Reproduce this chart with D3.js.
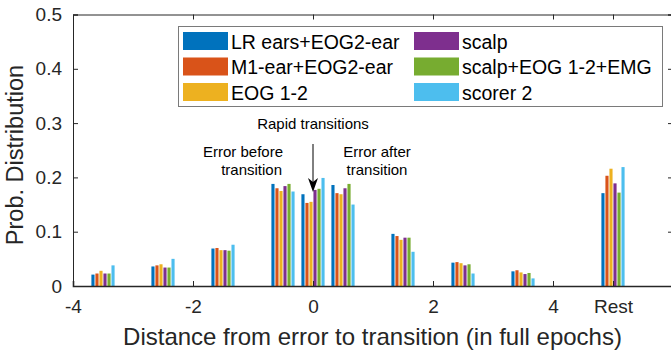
<!DOCTYPE html>
<html><head><meta charset="utf-8">
<script src="https://cdn.jsdelivr.net/npm/d3@7"></script>
<style>body{margin:0;background:#fff}svg{display:block}text{font-family:"Liberation Sans",Arial,sans-serif}</style>
</head><body>
<svg id="c" width="671" height="355"></svg>
<script>
const positions = [-3.5, -2.5, -1.5, -0.5, 0, 0.5, 1.5, 2.5, 3.5, 5];
const seriesNames = ["LR ears+EOG2-ear", "M1-ear+EOG2-ear", "EOG 1-2", "scalp", "scalp+EOG 1-2+EMG", "scorer 2"];
const colors = ["#0072BD", "#D95319", "#EDB120", "#7E2F8E", "#77AC30", "#4DBEEE"];
const lrEars   = [0.021, 0.036, 0.069, 0.188, 0.169, 0.186, 0.096, 0.043, 0.027, 0.171];
const m1Ear    = [0.023, 0.038, 0.070, 0.180, 0.153, 0.171, 0.092, 0.044, 0.029, 0.203];
const eog12    = [0.028, 0.040, 0.066, 0.175, 0.155, 0.169, 0.085, 0.042, 0.025, 0.216];
const scalp    = [0.023, 0.034, 0.066, 0.184, 0.177, 0.180, 0.089, 0.038, 0.022, 0.189];
const scalpEMG = [0.023, 0.034, 0.065, 0.188, 0.179, 0.188, 0.089, 0.040, 0.024, 0.172];
const scorer2  = [0.038, 0.050, 0.076, 0.174, 0.199, 0.150, 0.063, 0.023, 0.014, 0.219];
const series = [lrEars, m1Ear, eog12, scalp, scalpEMG, scorer2];
const xTicks = [-4, -2, 0, 2, 4, 5];
const xTickLabels = ["-4", "-2", "0", "2", "4", "Rest"];
const yTicks = [0, 0.1, 0.2, 0.3, 0.4, 0.5];

const svg = d3.select("#c");
const L = 73, R = 673, T = 14.5, B = 286;
const x = d3.scaleLinear().domain([-4, 6]).range([L, R]);
const y = d3.scaleLinear().domain([0, 0.5]).range([B, T]);
const inner = d3.scaleBand().domain(d3.range(series.length)).range([-12, 12]).paddingInner(0.22).paddingOuter(0.1);

// bars
series.forEach((vals, si) => {
  svg.append("g").selectAll("rect").data(vals).join("rect")
    .attr("x", (d, i) => x(positions[i]) + inner(si))
    .attr("width", inner.bandwidth())
    .attr("y", d => y(d))
    .attr("height", d => y(0) - y(d))
    .attr("fill", colors[si]);
});

// axes
const axCol = "#262626";
const fmt = d => d === 0 ? "0" : d3.format(".1f")(d);
const gx = svg.append("g").attr("transform", `translate(0,${B})`)
  .call(d3.axisBottom(x).tickValues(xTicks).tickFormat((d, i) => xTickLabels[i]).tickSize(-5).tickPadding(14));
const gxt = svg.append("g").attr("transform", `translate(0,${T})`)
  .call(d3.axisTop(x).tickValues(xTicks).tickFormat("").tickSize(-5));
const gy = svg.append("g").attr("transform", `translate(${L},0)`)
  .call(d3.axisLeft(y).tickValues(yTicks).tickFormat(fmt).tickSize(-5).tickPadding(11));
const gyr = svg.append("g").attr("transform", `translate(${R},0)`)
  .call(d3.axisRight(y).tickValues(yTicks).tickFormat("").tickSize(-5));
[gx, gxt, gy, gyr].forEach(g => {
  g.select(".domain").attr("stroke", axCol).attr("stroke-width", 1);
  g.selectAll(".tick line").attr("stroke", axCol).attr("stroke-width", 1);
  g.selectAll("text").attr("fill", "#262626").attr("font-size", 19).attr("font-family", '"Liberation Sans",Arial,sans-serif');
});
gx.select(".domain").attr("stroke-width", 1.6);

// axis labels
svg.append("text").attr("x", 372.5).attr("y", 345).attr("text-anchor", "middle")
  .attr("font-size", 24).attr("fill", "#262626").text("Distance from error to transition (in full epochs)");
svg.append("text").attr("transform", `translate(23,155) rotate(-90)`).attr("text-anchor", "middle")
  .attr("font-size", 23.5).attr("fill", "#262626").text("Prob. Distribution");

// annotations
const ann = svg.append("g").attr("font-size", 15).attr("fill", "#000");
ann.append("text").attr("x", 313).attr("y", 129).attr("text-anchor", "middle").text("Rapid transitions");
ann.append("text").attr("x", 283).attr("y", 157).attr("text-anchor", "end").text("Error before");
ann.append("text").attr("x", 282).attr("y", 175).attr("text-anchor", "end").text("transition");
ann.append("text").attr("x", 377).attr("y", 157).attr("text-anchor", "middle").text("Error after");
ann.append("text").attr("x", 377).attr("y", 175).attr("text-anchor", "middle").text("transition");
svg.append("line").attr("x1", x(0)).attr("x2", x(0)).attr("y1", 144).attr("y2", 186)
  .attr("stroke", "#000").attr("stroke-width", 1);
svg.append("path").attr("d", `M${x(0) - 5},${178} L${x(0)},${192} L${x(0) + 5},${178} L${x(0)},${182} Z`).attr("fill", "#000");

// legend
const lg = svg.append("g");
lg.append("rect").attr("x", 178.5).attr("y", 26.5).attr("width", 484).attr("height", 80)
  .attr("fill", "#fff").attr("stroke", "#7a7a7a").attr("stroke-width", 1);
seriesNames.forEach((n, i) => {
  const col = Math.floor(i / 3), row = i % 3;
  const sx = col === 0 ? 183 : 414;
  const top = [32, 57.5, 83][row];
  lg.append("rect").attr("x", sx).attr("y", top).attr("width", 45).attr("height", 18).attr("fill", colors[i]);
  lg.append("text").attr("x", sx + 48).attr("y", top + 16.5).attr("font-size", 19.5).attr("fill", "#000").text(n);
});
</script>
</body></html>
